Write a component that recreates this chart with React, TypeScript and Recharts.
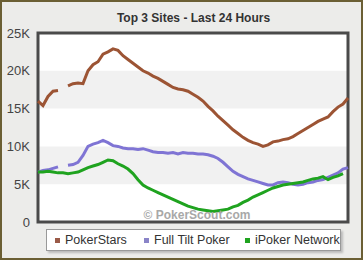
import { LineChart, Line, XAxis, YAxis, CartesianGrid, ReferenceArea, Legend } from 'recharts';

// values in thousands of players, one point per ~23 minutes over the last 24 hours
const pokerStars = [
  16.0, 15.4, 16.6, 17.3, 17.4, null, 18.0, 18.3, 18.4, 18.3,
  20.0, 20.8, 21.2, 22.2, 22.5, 22.9, 22.7, 22.0, 21.5, 21.0,
  20.5, 20.0, 19.7, 19.3, 19.0, 18.6, 18.2, 17.8, 17.6, 17.5,
  17.3, 16.9, 16.5, 16.0, 15.3, 14.7, 14.0, 13.4, 12.8, 12.2,
  11.7, 11.2, 10.8, 10.5, 10.3, 10.0, 10.2, 10.6, 10.7, 10.9,
  11.0, 11.3, 11.7, 12.1, 12.5, 12.9, 13.3, 13.6, 13.9, 14.6,
  15.2, 15.6, 16.4,
];
const fullTilt = [
  6.6, 6.8, 6.9, 7.1, 7.3, null, 7.5, 7.6, 7.9, 8.8,
  10.0, 10.3, 10.5, 10.8, 10.5, 10.1, 10.0, 9.8, 9.7, 9.7,
  9.6, 9.7, 9.5, 9.3, 9.2, 9.2, 9.1, 9.2, 9.0, 9.2,
  9.1, 9.1, 9.0, 9.0, 8.9, 8.7, 8.4, 7.9, 7.3, 6.7,
  6.3, 6.0, 5.7, 5.5, 5.3, 5.1, 4.9, 4.9, 5.2, 5.3,
  5.2, 5.0, 4.9, 5.0, 5.2, 5.3, 5.5, 5.6, 5.9, 6.2,
  6.5, 7.0, 7.2,
];
const iPoker = [
  6.6, 6.6, 6.7, 6.6, 6.5, 6.5, 6.4, 6.5, 6.6, 6.9,
  7.2, 7.4, 7.6, 7.9, 8.2, 8.1, 7.7, 7.4, 7.0, 6.4,
  5.6, 4.9, 4.5, 4.2, 3.9, 3.6, 3.3, 3.0, 2.7, 2.4,
  2.1, 1.9, 1.7, 1.6, 1.5, 1.4, 1.5, 1.6, 1.7, 2.0,
  2.2, 2.6, 2.9, 3.3, 3.6, 3.9, 4.2, 4.5, 4.7, 4.9,
  5.0, 5.1, 5.2, 5.3, 5.5, 5.7, 5.8, 6.0, 5.6, 5.9,
  6.1, 6.4, null,
];
const yTicks = [0, 5, 10, 15, 20, 25];

const data = pokerStars.map((v, i) => ({
  i,
  ps: v,
  ft: fullTilt[i],
  ip: iPoker[i],
}));

const series = [
  { key: 'ps', name: 'PokerStars', color: '#9c5434', box: '#9a5a48' },
  { key: 'ft', name: 'Full Tilt Poker', color: '#7f74d4', box: '#8a84c8' },
  { key: 'ip', name: 'iPoker Network', color: '#1fa31f', box: '#1fa31f' },
];

const font = '"Liberation Sans", Arial, sans-serif';

const renderLegend = () => (
  <div
    style={{
      position: 'absolute',
      left: 46,
      top: 229,
      width: 293,
      height: 20,
      background: '#fff',
      border: '1px solid #999',
      boxShadow: '2px 2px 2px #bbb',
      fontFamily: font,
      fontSize: 12.5,
      color: '#333',
      whiteSpace: 'nowrap',
    }}
  >
    {series.map((s, idx) => (
      <div key={s.key} style={{ position: 'absolute', left: [8, 97, 198][idx], top: 3, display: 'flex', alignItems: 'center' }}>
        <span style={{ width: 5, height: 5, background: s.box, display: 'inline-block', marginRight: 5 }} />
        <span>{s.name}</span>
      </div>
    ))}
  </div>
);

export default function App() {
  return (
    <div
      style={{
        position: 'absolute',
        left: 0,
        top: 0,
        width: 363,
        height: 260,
        background: '#ececea',
        boxSizing: 'border-box',
        border: '2px solid #6b5f34',
        fontFamily: font,
      }}
    >
      <div
        style={{
          position: 'absolute',
          left: 10,
          top: 9,
          width: 363,
          textAlign: 'center',
          fontWeight: 'bold',
          fontSize: 12,
          color: '#333',
        }}
      >
        Top 3 Sites - Last 24 Hours
      </div>
      <div style={{ position: 'absolute', left: -2, top: -2 }}>
        <LineChart width={363} height={260} data={data} margin={{ top: 33, right: 15, bottom: 38, left: 0 }}>
          <XAxis dataKey="i" type="number" domain={[0, 62]} hide />
          <YAxis
            type="number"
            domain={[0, 25]}
            ticks={yTicks}
            width={38}
            axisLine={false}
            tickLine={false}
            tickFormatter={(v: number) => (v === 0 ? '0' : `${v}K`)}
            tick={{ fill: '#444', fontSize: 13, fontFamily: font }}
            tickMargin={2}
          />
          <ReferenceArea x1={0} x2={62} y1={0} y2={25} fill="#ffffff" fillOpacity={1} stroke="none" />
          <ReferenceArea x1={0} x2={62} y1={5} y2={10} fill="#f1f1f1" fillOpacity={1} stroke="none" />
          <ReferenceArea x1={0} x2={62} y1={15} y2={20} fill="#f1f1f1" fillOpacity={1} stroke="none" />
          <CartesianGrid vertical={false} stroke="#c8c8c8" />
          <ReferenceArea
            x1={0}
            x2={62}
            y1={0}
            y2={2}
            fill="none"
            stroke="none"
            label={{ value: '© PokerScout.com', position: 'insideBottom', offset: 3, fill: '#a8a8a8', fontSize: 12, fontWeight: 'bold', fontFamily: font, dx: 4 }}
          />
          {series.map((s) => (
            <Line
              key={s.key}
              dataKey={s.key}
              name={s.name}
              stroke={s.color}
              strokeWidth={3}
              dot={false}
              connectNulls={false}
              isAnimationActive={false}
            />
          ))}
          <ReferenceArea x1={0} x2={62} y1={0} y2={25} fill="none" stroke="#4a4a4a" strokeWidth={3} />
          <Legend content={renderLegend} wrapperStyle={{ position: 'absolute', left: 0, top: 0, width: 0, height: 0 }} />
        </LineChart>
      </div>
    </div>
  );
}
